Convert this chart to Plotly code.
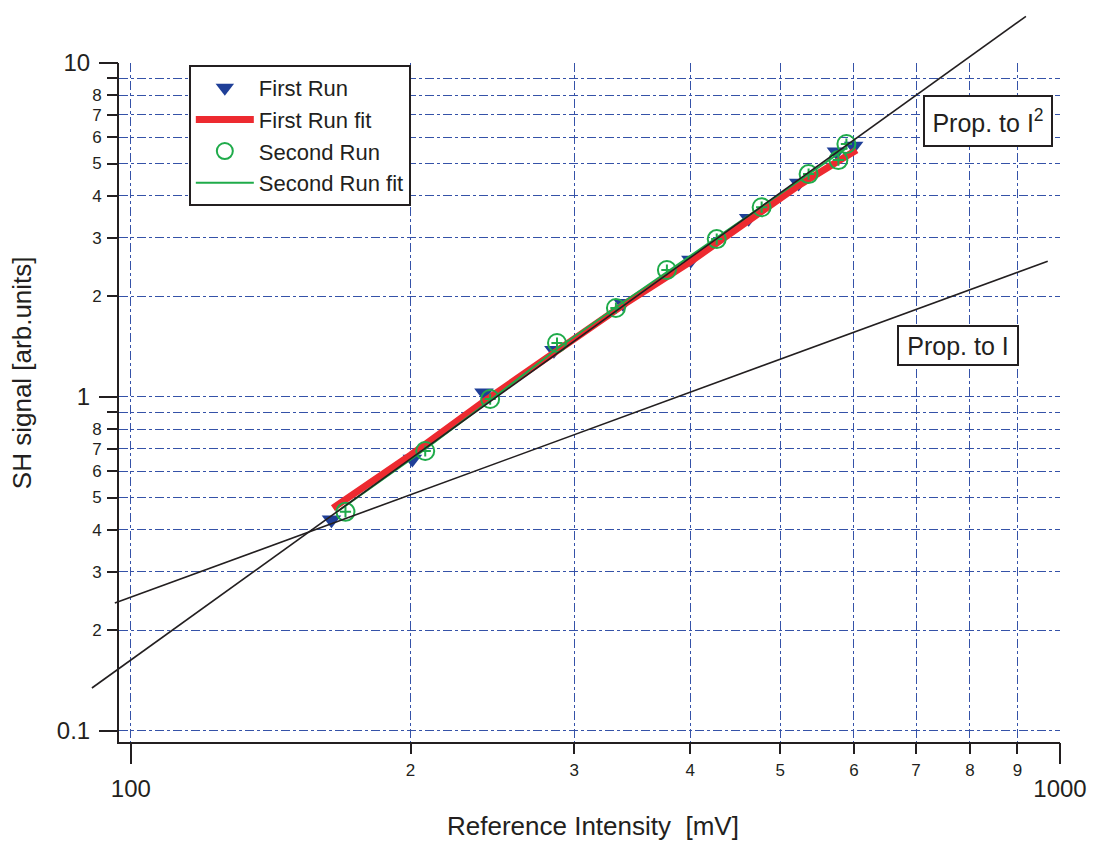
import math
import plotly.graph_objects as go

# ---------------- data ----------------
run1_x = [164.4, 200.9, 239.9, 285.3, 338.5, 400.6, 462.3, 523.2, 574.6, 599.6]
run1_y = [0.429, 0.652, 1.03, 1.38, 1.91, 2.57, 3.43, 4.37, 5.42, 5.64]

fit1_x = [165, 200, 240, 285, 340, 400, 460, 520, 575, 604]
fit1_y = [0.465, 0.67, 0.97, 1.36, 1.90, 2.54, 3.32, 4.25, 5.05, 5.49]

run2_x = [170.2, 207.4, 243.6, 287.5, 332.7, 377.5, 427.1, 477.4, 536.3, 577.4, 589.0]
run2_y = [0.453, 0.689, 0.986, 1.451, 1.847, 2.40, 2.97, 3.70, 4.65, 5.12, 5.72]

fit2_x = [167, 207, 244, 288, 333, 378, 427, 477, 536, 590]
fit2_y = [0.455, 0.695, 0.98, 1.40, 1.86, 2.37, 2.99, 3.70, 4.62, 5.58]

# guide lines (end points)
sq_x = [90.8, 919.0]
sq_y = [0.1345, 13.8]
lin_x = [96.1, 970.0]
lin_y = [0.2415, 2.55]

# axes
x_range_log = [math.log10(97.1), 3.0]
y_range_log = [-1.033, 1.0]
x_major = [100, 1000]
x_major_text = ["100", "1000"]
x_minor = [100, 200, 300, 400, 500, 600, 700, 800, 900, 1000]
x_minor_text = ["", "2", "3", "4", "5", "6", "7", "8", "9", ""]
y_major = [0.1, 1, 10]
y_major_text = ["0.1", "1", "10"]
y_minor = [0.1, 0.2, 0.3, 0.4, 0.5, 0.6, 0.7, 0.8, 0.9,
           1, 2, 3, 4, 5, 6, 7, 8, 9, 10]
y_minor_text = ["", "2", "3", "4", "5", "6", "7", "8", "",
                "", "2", "3", "4", "5", "6", "7", "8", "", ""]

# ---------------- styling ----------------
FONT = "Liberation Sans, Arial, Helvetica, sans-serif"
TXT = "#231f20"
GRID = "#3552a8"
BLUE = "#1f3f98"
RED = "#ed2a30"
GREEN = "#1fab4a"

fig = go.Figure()

fig.add_trace(go.Scatter(
    x=run1_x, y=run1_y, mode="markers", name="First Run",
    marker=dict(symbol="triangle-down", size=17, color=BLUE, line=dict(width=0)),
    legendgroup="a"))
fig.add_trace(go.Scatter(
    x=fit1_x, y=fit1_y, mode="lines", name="First Run fit",
    line=dict(color=RED, width=7), legendgroup="b"))
fig.add_trace(go.Scatter(
    x=run2_x, y=run2_y, mode="markers", name="Second Run",
    marker=dict(symbol="circle-open", size=18, color=GREEN,
                line=dict(width=2, color=GREEN)),
    legendgroup="c"))
fig.add_trace(go.Scatter(
    x=run2_x, y=run2_y, mode="markers", name="Second Run",
    marker=dict(symbol="cross-thin-open", size=8, color=GREEN,
                line=dict(width=2, color=GREEN)),
    legendgroup="c", showlegend=False))
fig.add_trace(go.Scatter(
    x=fit2_x, y=fit2_y, mode="lines", name="Second Run fit",
    line=dict(color=GREEN, width=2), legendgroup="d"))

# dummy trace to activate overlay axes
fig.add_trace(go.Scatter(
    x=[200], y=[1], xaxis="x2", yaxis="y2", mode="markers",
    marker=dict(opacity=0), showlegend=False, hoverinfo="skip"))


def px(v):
    return (math.log10(v) - x_range_log[0]) / (x_range_log[1] - x_range_log[0])


def py(v):
    return (math.log10(v) - y_range_log[0]) / (y_range_log[1] - y_range_log[0])


for xs, ys in [(sq_x, sq_y), (lin_x, lin_y)]:
    fig.add_shape(type="line", xref="paper", yref="paper",
                  x0=px(xs[0]), y0=py(ys[0]), x1=px(xs[1]), y1=py(ys[1]),
                  line=dict(color=TXT, width=1.6), layer="above")

fig.update_layout(
    width=1099, height=841,
    margin=dict(l=119, r=37, t=63, b=99),
    paper_bgcolor="white", plot_bgcolor="white",
    font=dict(family=FONT, color=TXT),
    showlegend=True,
    legend=dict(
        x=0.0742, y=0.997, xanchor="left", yanchor="top",
        bgcolor="white", bordercolor=TXT, borderwidth=2,
        font=dict(size=22, family=FONT, color=TXT),
        itemwidth=58, tracegroupgap=0, traceorder="normal"),
    xaxis=dict(
        type="log", range=x_range_log, tickmode="array",
        tickvals=x_minor, ticktext=x_minor_text,
        tickfont=dict(size=17, family=FONT, color=TXT),
        ticks="outside", ticklen=10, tickwidth=1.5, tickcolor=TXT,
        ticklabelstandoff=2,
        showgrid=True, gridcolor=GRID, griddash="dashdot", gridwidth=1,
        showline=True, linecolor=TXT, linewidth=1.6, mirror=False,
        zeroline=False, fixedrange=True),
    xaxis2=dict(
        type="log", range=x_range_log, overlaying="x", anchor="y2", side="bottom",
        tickmode="array", tickvals=x_major, ticktext=x_major_text,
        tickfont=dict(size=24, family=FONT, color=TXT),
        ticks="outside", ticklen=21, tickwidth=1.5, tickcolor=TXT,
        ticklabelstandoff=4,
        showgrid=False, showline=False, zeroline=False, fixedrange=True),
    yaxis=dict(
        type="log", range=y_range_log, tickmode="array",
        tickvals=y_minor, ticktext=y_minor_text,
        tickfont=dict(size=17, family=FONT, color=TXT),
        ticks="outside", ticklen=10, tickwidth=1.5, tickcolor=TXT,
        ticklabelstandoff=2,
        showgrid=True, gridcolor=GRID, griddash="dashdot", gridwidth=1,
        showline=True, linecolor=TXT, linewidth=1.6, mirror=False,
        zeroline=False, fixedrange=True),
    yaxis2=dict(
        type="log", range=y_range_log, overlaying="y", anchor="x2", side="left",
        tickmode="array", tickvals=y_major, ticktext=y_major_text,
        tickfont=dict(size=24, family=FONT, color=TXT),
        ticks="outside", ticklen=19, tickwidth=1.5, tickcolor=TXT,
        ticklabelstandoff=4,
        showgrid=False, showline=False, zeroline=False, fixedrange=True),
)

# axis titles
fig.add_annotation(text="SH signal [arb.units]", xref="paper", yref="paper",
                   x=-0.1029, y=0.5435, textangle=-90, showarrow=False,
                   xanchor="center", yanchor="middle",
                   font=dict(size=26, family=FONT, color=TXT))
fig.add_annotation(text="Reference Intensity&nbsp;&nbsp;[mV]", xref="paper", yref="paper",
                   x=0.5037, y=-0.1237, showarrow=False,
                   xanchor="center", yanchor="middle",
                   font=dict(size=26, family=FONT, color=TXT))

# labelled boxes
fig.add_annotation(text="Prop. to I<sup>2</sup>", xref="paper", yref="paper",
                   x=0.8547, y=0.9529, xanchor="left", yanchor="top",
                   showarrow=False, bgcolor="white", bordercolor=TXT,
                   borderwidth=2, borderpad=0, width=126, height=48,
                   font=dict(size=25, family=FONT, color=TXT))
fig.add_annotation(text="Prop. to I", xref="paper", yref="paper",
                   x=0.8266, y=0.6141, xanchor="left", yanchor="top",
                   showarrow=False, bgcolor="white", bordercolor=TXT,
                   borderwidth=2, borderpad=0, width=118, height=37,
                   font=dict(size=25, family=FONT, color=TXT))

fig.write_html("out.html")
